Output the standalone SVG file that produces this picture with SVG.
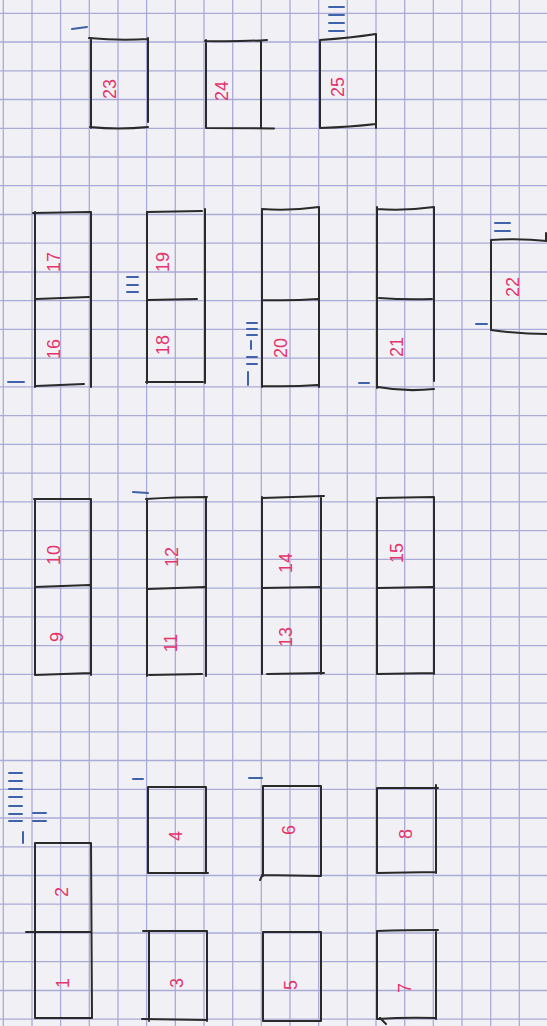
<svg xmlns="http://www.w3.org/2000/svg" width="547" height="1026" viewBox="0 0 547 1026">
<style>
.grid{stroke:#aaaad6;stroke-width:1.3;fill:none}
.ln{stroke:#2a2a2a;stroke-width:2;fill:none;stroke-linecap:round}
.tl{stroke:#3f62ab;stroke-width:2;fill:none;stroke-linecap:round}
.num{fill:#e6336c;font-family:"Liberation Sans",Arial,sans-serif;font-size:18px;text-anchor:middle;dominant-baseline:central}
</style>
<rect width="547" height="1026" fill="#f1f1f5"/>
<g id="grid">
<path class="grid" d="M3.3 0V1026M32 0V1026M60.6 0V1026M89.3 0V1026M118 0V1026M146.6 0V1026M175.3 0V1026M204 0V1026M232.7 0V1026M261.3 0V1026M290 0V1026M318.7 0V1026M347.3 0V1026M376 0V1026M404.7 0V1026M433.3 0V1026M462 0V1026M490.7 0V1026M519.3 0V1026"/>
<path class="grid" d="M0 13.3H547M0 42H547M0 70.8H547M0 99.5H547M0 128.3H547M0 157H547M0 185.7H547M0 214.5H547M0 243.2H547M0 272H547M0 300.7H547M0 329.4H547M0 358.2H547M0 386.9H547M0 415.7H547M0 444.4H547M0 473.1H547M0 501.9H547M0 530.6H547M0 559.4H547M0 588.1H547M0 616.8H547M0 645.6H547M0 674.3H547M0 703.1H547M0 731.8H547M0 760.5H547M0 789.3H547M0 818H547M0 846.8H547M0 875.5H547M0 904.2H547M0 933H547M0 961.7H547M0 990.5H547M0 1019.2H547"/>
</g>
<g id="connectors"/>

<g id="box23">
<path class="ln" d="M89 38Q120 41 148 39M91 38L91 128M148 38L148 122M90 127Q118 130 148 127"/>
<path class="tl" d="M72 29L87 27"/>
<text class="num" x="110" y="89" transform="rotate(-90 110 89)">23</text>
</g>
<g id="box24">
<path class="ln" d="M205 41Q235 42 267 40M206 40L206 128M261 42L261 127M206 128L274 128.5"/>
<text class="num" x="222" y="91" transform="rotate(-90 222 91)">24</text>
</g>
<g id="box25">
<path class="ln" d="M320 40Q350 38 376 34M320 40L320 128M376 34L376 128M320 128Q350 127 376 124"/>
<path class="tl" d="M329 7H344M329 15H344M329 23H344M329 31H344"/>
<text class="num" x="338" y="87" transform="rotate(-90 338 87)">25</text>
</g>

<g id="box16-17">
<path class="ln" d="M33 213L91 212M35 212L35 387M91 212L91 387M36 299Q60 298 89 297M36 386Q60 385 84 384"/>
<path class="tl" d="M8 382H24"/>
<text class="num" x="54" y="262" transform="rotate(-90 54 262)">17</text>
<text class="num" x="54" y="349" transform="rotate(-90 54 349)">16</text>
</g>
<g id="box18-19">
<path class="ln" d="M147 212L202 211M147 212L147 383M205 209L205 383M148 300L197 299M146 382L203 382"/>
<path class="tl" d="M127 277H138M127 285H138M127 292H138"/>
<text class="num" x="163" y="262" transform="rotate(-90 163 262)">19</text>
<text class="num" x="163" y="345" transform="rotate(-90 163 345)">18</text>
</g>
<g id="box20">
<path class="ln" d="M262 209Q290 211 319 207M262 209L262 387M319 207L319 387M262 300Q290 301 318 299M262 386Q290 387 318 385"/>
<path class="tl" d="M247 323H257M247 329H257M247 335H257M251 341V349M247 357H257M247 364H257M248 372V385"/>
<text class="num" x="281" y="348" transform="rotate(-90 281 348)">20</text>
</g>
<g id="box21">
<path class="ln" d="M377 209Q405 211 434 207M377 207L377 388M434 207L434 381M379 298Q405 300 432 299M378 387Q405 392 434 389"/>
<path class="tl" d="M359 383H369"/>
<text class="num" x="397" y="347" transform="rotate(-90 397 347)">21</text>
</g>
<g id="box22">
<path class="ln" d="M491 240L491 330M491 240Q520 238 547 241M491 330Q520 334 547 334M546 233L546 241"/>
<path class="tl" d="M495 223H510M495 231H510M476 324H487"/>
<text class="num" x="513" y="287" transform="rotate(-90 513 287)">22</text>
</g>

<g id="box9-10">
<path class="ln" d="M34 499L91 499M35 499L35 675M91 499L91 675M35 587Q62 586 90 585M35 675Q62 674 91 673"/>
<text class="num" x="54" y="555" transform="rotate(-90 54 555)">10</text>
<text class="num" x="57" y="637" transform="rotate(-90 57 637)">9</text>
</g>
<g id="box11-12">
<path class="ln" d="M146 499Q175 497 207 497M147 499L147 676M206 497L206 676M148 589Q175 588 205 587M149 675L202 674"/>
<path class="tl" d="M133 492L148 493"/>
<text class="num" x="172" y="557" transform="rotate(-90 172 557)">12</text>
<text class="num" x="171" y="643" transform="rotate(-90 171 643)">11</text>
</g>
<g id="box13-14">
<path class="ln" d="M262 498Q292 497 324 496M262 497L262 674M321 496L321 674M262 588L320 587M267 674L324 673"/>
<text class="num" x="286" y="563" transform="rotate(-90 286 563)">14</text>
<text class="num" x="286" y="637" transform="rotate(-90 286 637)">13</text>
</g>
<g id="box15">
<path class="ln" d="M377 498L434 497M377 498L377 674M434 497L434 674M378 588L433 587M377 674L434 673"/>
<text class="num" x="397" y="553" transform="rotate(-90 397 553)">15</text>
</g>

<g id="box1-2">
<path class="ln" d="M35 843L91 843M35 843L35 1018M91 843L92 1018M26 932L91 932M35 1018L92 1018"/>
<path class="tl" d="M9 773H22M9 781H22M9 789H22M9 797H22M9 806H22M9 814H22M9 821H22M33 813H46M33 821H46M23 832V843"/>
<text class="num" x="62" y="892" transform="rotate(-90 62 892)">2</text>
<text class="num" x="63" y="983" transform="rotate(-90 63 983)">1</text>
</g>
<g id="box3">
<path class="ln" d="M143 931L207 931M149 931L149 1021M207 931L207 1021M142 1019L207 1020"/>
<text class="num" x="177" y="983" transform="rotate(-90 177 983)">3</text>
</g>
<g id="box4">
<path class="ln" d="M148 787L206 787M148 787L148 873M206 787L206 873M148 873L208 873"/>
<path class="tl" d="M133 779H143"/>
<text class="num" x="176" y="836" transform="rotate(-90 176 836)">4</text>
</g>
<g id="box5">
<path class="ln" d="M263 932L321 932M263 932L263 1021M321 932L321 1021M263 1021L321 1021"/>
<text class="num" x="291" y="985" transform="rotate(-90 291 985)">5</text>
</g>
<g id="box6">
<path class="ln" d="M263 786L321 786M263 786L263 876M321 786L321 876M262 875L321 876M262 876L260 880"/>
<path class="tl" d="M249 778H262"/>
<text class="num" x="289" y="830" transform="rotate(-90 289 830)">6</text>
</g>
<g id="box7">
<path class="ln" d="M377 931Q405 930 438 930M377 931L377 1019M436 930L436 1019M377 1019Q405 1017 436 1018M380 1018L386 1024"/>
<text class="num" x="405" y="988" transform="rotate(-90 405 988)">7</text>
</g>
<g id="box8">
<path class="ln" d="M377 788L438 788M377 788L377 873M436 785L436 873M377 873L436 872"/>
<text class="num" x="406" y="834" transform="rotate(-90 406 834)">8</text>
</g>
</svg>
